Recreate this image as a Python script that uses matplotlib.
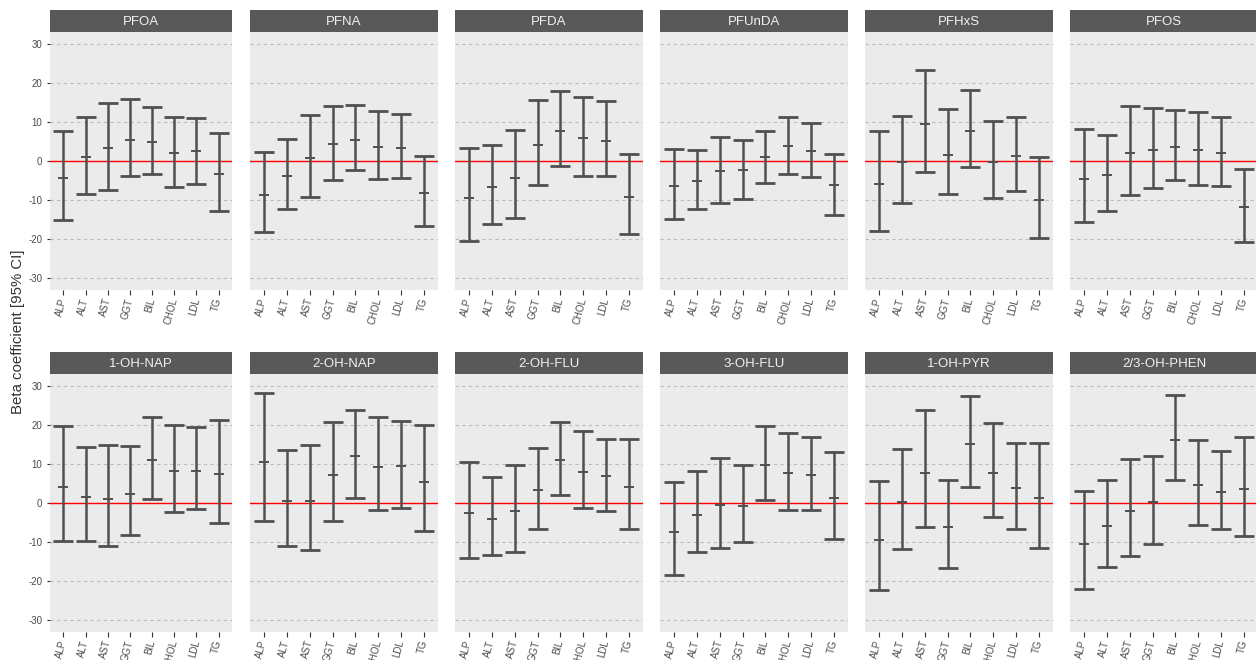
import matplotlib
matplotlib.use("Agg")
import matplotlib.pyplot as plt
import numpy as np

plt.rcParams['font.family'] = ['Liberation Sans', 'DejaVu Sans']

outcomes = ['ALP', 'ALT', 'AST', 'GGT', 'BIL', 'CHOL', 'LDL', 'TG']
exposures = ['PFOA', 'PFNA', 'PFDA', 'PFUnDA', 'PFHxS', 'PFOS',
             '1-OH-NAP', '2-OH-NAP', '2-OH-FLU', '3-OH-FLU', '1-OH-PYR', '2/3-OH-PHEN']

# point estimates (rows: exposures, cols: outcomes)
estimate = [
    [-4.4, 1.0, 3.3, 5.4, 4.9, 2.0, 2.5, -3.3],      # PFOA
    [-8.6, -3.8, 0.8, 4.3, 5.5, 3.7, 3.4, -8.2],     # PFNA
    [-9.5, -6.6, -4.3, 4.1, 7.8, 5.8, 5.1, -9.2],    # PFDA
    [-6.3, -5.1, -2.6, -2.4, 1.0, 3.8, 2.6, -6.1],   # PFUnDA
    [-5.9, -0.2, 9.5, 1.6, 7.8, -0.2, 1.2, -9.9],    # PFHxS
    [-4.5, -3.6, 2.0, 2.8, 3.7, 2.8, 2.0, -11.8],    # PFOS
    [4.1, 1.5, 1.1, 2.4, 10.9, 8.2, 8.2, 7.4],       # 1-OH-NAP
    [10.6, 0.5, 0.5, 7.2, 12.1, 9.3, 9.5, 5.5],      # 2-OH-NAP
    [-2.6, -4.1, -2.1, 3.2, 11.0, 8.0, 6.8, 4.2],    # 2-OH-FLU
    [-7.4, -3.0, -0.5, -0.7, 9.7, 7.6, 7.1, 1.4],    # 3-OH-FLU
    [-9.5, 0.2, 7.8, -6.2, 15.1, 7.6, 3.9, 1.2],     # 1-OH-PYR
    [-10.5, -5.8, -2.1, 0.2, 16.1, 4.7, 2.8, 3.5],   # 2/3-OH-PHEN
]
lower = [
    [-15.0, -8.4, -7.3, -3.8, -3.2, -6.7, -5.8, -12.8],
    [-18.2, -12.4, -9.1, -4.8, -2.3, -4.5, -4.3, -16.6],
    [-20.5, -16.2, -14.7, -6.1, -1.4, -3.9, -3.9, -18.8],
    [-14.9, -12.3, -10.8, -9.6, -5.5, -3.2, -4.1, -13.7],
    [-17.8, -10.8, -2.8, -8.4, -1.6, -9.5, -7.8, -19.7],
    [-15.6, -12.9, -8.7, -6.8, -4.8, -6.2, -6.4, -20.6],
    [-9.8, -9.6, -11.1, -8.3, 0.9, -2.3, -1.6, -5.0],
    [-4.7, -11.1, -12.0, -4.5, 1.3, -1.9, -1.2, -7.2],
    [-14.1, -13.4, -12.6, -6.6, 2.0, -1.4, -2.0, -6.6],
    [-18.3, -12.6, -11.4, -10.1, 0.7, -1.9, -1.9, -9.1],
    [-22.3, -11.8, -6.2, -16.6, 4.0, -3.7, -6.6, -11.4],
    [-22.0, -16.3, -13.6, -10.4, 5.8, -5.5, -6.6, -8.5],
]
upper = [
    [7.8, 11.3, 14.8, 15.9, 13.8, 11.3, 11.1, 7.2],
    [2.3, 5.7, 11.7, 14.0, 14.2, 12.8, 11.9, 1.3],
    [3.3, 4.2, 8.0, 15.5, 18.0, 16.5, 15.3, 1.7],
    [3.0, 2.7, 6.1, 5.3, 7.8, 11.3, 9.7, 1.9],
    [7.6, 11.5, 23.4, 13.2, 18.2, 10.2, 11.2, 1.1],
    [8.2, 6.7, 14.0, 13.6, 13.0, 12.5, 11.2, -2.1],
    [19.8, 14.2, 14.9, 14.5, 22.1, 20.0, 19.4, 21.3],
    [28.2, 13.6, 14.8, 20.7, 23.7, 21.9, 21.1, 20.0],
    [10.6, 6.6, 9.6, 14.0, 20.7, 18.4, 16.5, 16.3],
    [5.4, 8.1, 11.4, 9.8, 19.6, 17.9, 16.9, 13.1],
    [5.6, 13.7, 23.7, 6.0, 27.5, 20.4, 15.3, 15.3],
    [3.1, 5.9, 11.2, 11.9, 27.7, 16.0, 13.4, 17.0],
]
y_ticks = [-30, -20, -10, 0, 10, 20, 30]
y_label = 'Beta coefficient [95% CI]'

W, H = 1256, 660
fig = plt.figure(figsize=(W / 100, H / 100), dpi=100)
fig.patch.set_facecolor('white')

col_left = [50, 250, 455, 660, 865, 1070]
col_width = [182, 188, 188, 188, 188, 188]
strip_top = [10, 352]
strip_h = 22
panel_h = 258


def rect(l, t, w, h):
    return [l / W, 1 - (t + h) / H, w / W, h / H]


bar_col = '#505050'
for i, name in enumerate(exposures):
    r, c = divmod(i, 6)
    ax = fig.add_axes(rect(col_left[c], strip_top[r] + strip_h, col_width[c], panel_h))
    ax.set_facecolor('#EBEBEB')
    for s in ax.spines.values():
        s.set_visible(False)
    ax.set_xlim(0.4, 8.6)
    ax.set_ylim(-33, 33)
    ax.set_yticks(y_ticks)
    ax.yaxis.grid(True, color='#BBBBBB', linestyle=(0, (3, 3)), linewidth=0.8)
    ax.set_axisbelow(True)
    ax.axhline(0, color='#FF0000', linewidth=1.0, zorder=2)

    x = np.arange(1, len(outcomes) + 1)
    est = np.array(estimate[i])
    lo = np.array(lower[i])
    hi = np.array(upper[i])
    ax.errorbar(x, est, yerr=[est - lo, hi - est], fmt='none', ecolor=bar_col,
                elinewidth=1.8, capsize=7, capthick=2.0, zorder=3)
    ax.plot(x, est, ls='none', marker='_', ms=7, mew=1.4, color=bar_col, zorder=4)

    ax.set_xticks(x)
    ax.set_xticklabels(outcomes, rotation=75, ha='right', va='center',
                       rotation_mode='anchor', fontsize=7, color='#4D4D4D')
    ax.tick_params(axis='x', length=3.5, width=0.8, color='#333333', pad=2.5)
    if c == 0:
        ax.set_yticklabels([str(t) for t in y_ticks])
        ax.tick_params(axis='y', labelsize=7, labelcolor='#4D4D4D', length=2.5,
                       width=0.8, color='#333333', pad=3)
    else:
        ax.tick_params(axis='y', left=False, labelleft=False)

    sax = fig.add_axes(rect(col_left[c], strip_top[r], col_width[c], strip_h))
    sax.set_facecolor('#595959')
    sax.set_xticks([])
    sax.set_yticks([])
    for s in sax.spines.values():
        s.set_visible(False)
    sax.text(0.5, 0.47, name, transform=sax.transAxes, ha='center', va='center',
             fontsize=9.5, color='#F2F2F2')

fig.text(18 / W, 1 - 332 / H, y_label, rotation=90, ha='center', va='center',
         fontsize=10.8, color='#333333')

fig.savefig('out.png', dpi=100, facecolor='white')
